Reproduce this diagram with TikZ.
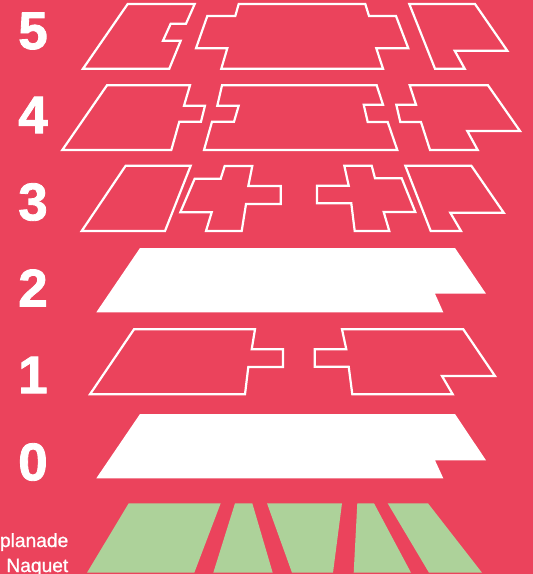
\documentclass[tikz,border=0pt]{standalone}
\usepackage{fontspec}
\setmainfont{Liberation Sans}
\newfontfamily\digitfont[RawFeature={embolden=1.6}]{Liberation Sans Bold}
\newfontfamily\placefont[RawFeature={embolden=0.9}]{Liberation Sans}
\definecolor{bgred}{HTML}{EB435C}
\definecolor{lawn}{HTML}{ADD29A}
\tikzset{
  outline/.style={draw=white,line width=2.2pt,miter limit=10,line join=miter},
  solidfloor/.style={fill=white},
  lawnpatch/.style={fill=lawn},
  digitlabel/.style={text=white,inner sep=0pt,font=\fontsize{53}{53}\selectfont\digitfont},
  placelabel/.style={text=white,inner sep=0pt,anchor=base east,font=\fontsize{19.2}{20}\selectfont\placefont}
}
\begin{document}
\begin{tikzpicture}[x=1pt,y=-1pt]
\useasboundingbox (0,0) rectangle (533,574);
\fill[bgred] (0,0) rectangle (533,574);
% floor 5
\draw[outline] (127.7,4)--(194.7,4)--(186,23.7)--(170.7,23.7)--(163,40.7)--(180.7,40.7)--(169.3,68.7)--(83,68.7)--cycle;
\draw[outline] (238.7,4)--(235.3,16)--(207.3,16)--(196,48.3)--(227.3,48.3)--(221.3,68.7)--(383,68.7)--(376.3,48.3)--(408.3,48.3)--(396,16)--(369,16)--(365.3,4)--cycle;
\draw[outline] (409.3,4)--(475,4)--(507.3,50.7)--(454.7,50.7)--(464.7,68.7)--(435,68.7)--cycle;
% floor 4
\draw[outline] (107,85.3)--(190,85.3)--(184,105.7)--(205,105.7)--(201,121.7)--(179.3,121.7)--(171.3,150)--(62.3,150)--cycle;
\draw[outline] (222,85.3)--(217.3,105.7)--(238.7,105.7)--(234,121.7)--(212,121.7)--(204,150)--(397.3,150)--(387.7,122)--(367.7,122)--(363.7,104.7)--(383,104.7)--(376.7,85.3)--cycle;
\draw[outline] (409.7,85.3)--(416,104.7)--(396.3,104.7)--(400.3,122)--(421,122)--(430,150)--(477.7,150)--(467.3,131)--(520,131)--(488,85.3)--cycle;
% floor 3
\draw[outline] (125.7,165.7)--(190.7,165.7)--(165,231)--(81.7,231)--cycle;
\draw[outline] (194.7,178.7)--(220.7,178.7)--(224.7,166)--(252.3,166)--(248.3,186)--(280.7,186)--(280.7,204)--(246,204)--(241.7,231)--(206,231)--(211.7,212.3)--(180.3,212.3)--cycle;
\draw[outline] (344.3,165.7)--(371.7,165.7)--(375,178.3)--(401.7,178.3)--(415.3,212)--(383.7,212)--(389.3,231)--(354.7,231)--(351.3,203.3)--(317,203.3)--(317,185.7)--(348.7,185.7)--cycle;
\draw[outline] (405.3,165.7)--(471.3,165.7)--(503.7,212.7)--(450.3,212.7)--(461,231)--(430.7,231)--cycle;
% floor 2
\fill[solidfloor] (140,248)--(455,248)--(486,293.7)--(435,293.7)--(443.3,312.3)--(96.3,312.3)--cycle;
% floor 1
\draw[outline] (134,329.3)--(255,329.3)--(251.7,349.3)--(283,349.3)--(283,367)--(248.3,367)--(245,394.3)--(90,394.3)--cycle;
\draw[outline] (342,329.3)--(463.3,329.3)--(495,376)--(442,376)--(452.7,394.3)--(352.3,394.3)--(348.7,366.7)--(314.7,366.7)--(314.7,349.3)--(346.3,349.3)--cycle;
% floor 0
\fill[solidfloor] (140,414)--(455,414)--(486,460.3)--(435,460.3)--(443.3,478.3)--(96.3,478.3)--cycle;
% lawn
\fill[lawnpatch] (128.7,503.3)--(220.7,503.3)--(194.3,572.7)--(87,572.7)--cycle;
\fill[lawnpatch] (235,503.3)--(252.3,503.3)--(272.7,572.7)--(213.3,572.7)--cycle;
\fill[lawnpatch] (267,503.3)--(342,503.3)--(333,572.7)--(292,572.7)--cycle;
\fill[lawnpatch] (357.3,503.3)--(374,503.3)--(411,572.7)--(353.7,572.7)--cycle;
\fill[lawnpatch] (387.7,503.3)--(428,503.3)--(482,572.7)--(429,572.7)--cycle;
% labels
\node[digitlabel] (five) at (33,31) {5};
\node[digitlabel] (four) at (33,115) {4};
\node[digitlabel] (three) at (33,202) {3};
\node[digitlabel] (two) at (33,288) {2};
\node[digitlabel] (one) at (33,375) {1};
\node[digitlabel] (zero) at (33,462) {0};
\node[placelabel] (esp) at (68.5,547) {planade};
\node[placelabel] (naq) at (68.5,572) {Naquet};
\end{tikzpicture}
\end{document}
